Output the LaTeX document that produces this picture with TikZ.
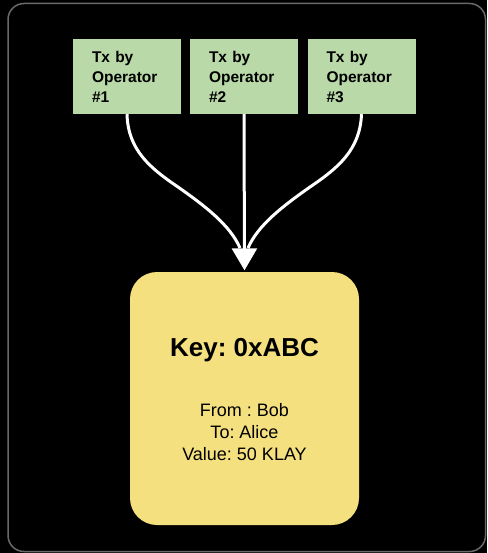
\documentclass[tikz,border=0pt]{standalone}
\usepackage{fontspec}
\setmainfont{Liberation Sans}
\frenchspacing
\usetikzlibrary{arrows.meta}
\definecolor{txgreen}{RGB}{185,217,168}
\definecolor{keyyellow}{RGB}{245,224,127}
\definecolor{framegray}{RGB}{105,105,105}
\tikzset{
  txbox/.style={fill=txgreen, draw=none, minimum width=108pt, minimum height=75pt,
    text width=70pt, align=left, inner xsep=19pt, inner ysep=0pt,
    font=\bfseries\fontsize{15.5}{20}\selectfont, text=black},
  keybox/.style={fill=keyyellow, draw=none, rounded corners=27pt,
    minimum width=229pt, minimum height=253pt},
  flow/.style={draw=white, line width=3pt},
}
\begin{document}
\begin{tikzpicture}[x=1pt,y=-1pt]
\fill[black] (0,0) rectangle (487,553);
\useasboundingbox (0,0) rectangle (487,553);
\draw[framegray, line width=1.5pt, rounded corners=16pt] (8,3.5) rectangle (485.5,551.5);

\node[txbox] (t1) at (127,76.5) {Tx by\\Operator\\\#1};
\node[txbox] (t2) at (244,76.5) {Tx by\\Operator\\\#2};
\node[txbox] (t3) at (361.5,76.5) {Tx by\\Operator\\\#3};

\node[keybox] (key) at (244.5,398.5) {};
\node[font=\bfseries\fontsize{26}{30}\selectfont] (keytitle) at (244.5,350) {Key: 0xABC};
\node[font=\fontsize{18}{21.7}\selectfont, align=center] (keyinfo) at (244.5,432) {From : Bob\\To: Alice\\Value: 50 KLAY};

\coordinate (le) at (240,248);
\coordinate (re) at (248,248);

\draw[flow] (t1.south) .. controls (128,150) and (150,168) .. (178,187)
  .. controls (205,206) and (230,225) .. (le);
\draw[flow] (t3.south) .. controls (360,150) and (338,168) .. (310,187)
  .. controls (283,206) and (258,225) .. (re);
\draw[flow, -{Triangle[length=22pt,width=25pt]}, shorten >=1.5pt] (t2.south) -- (key.north);
\end{tikzpicture}
\end{document}
